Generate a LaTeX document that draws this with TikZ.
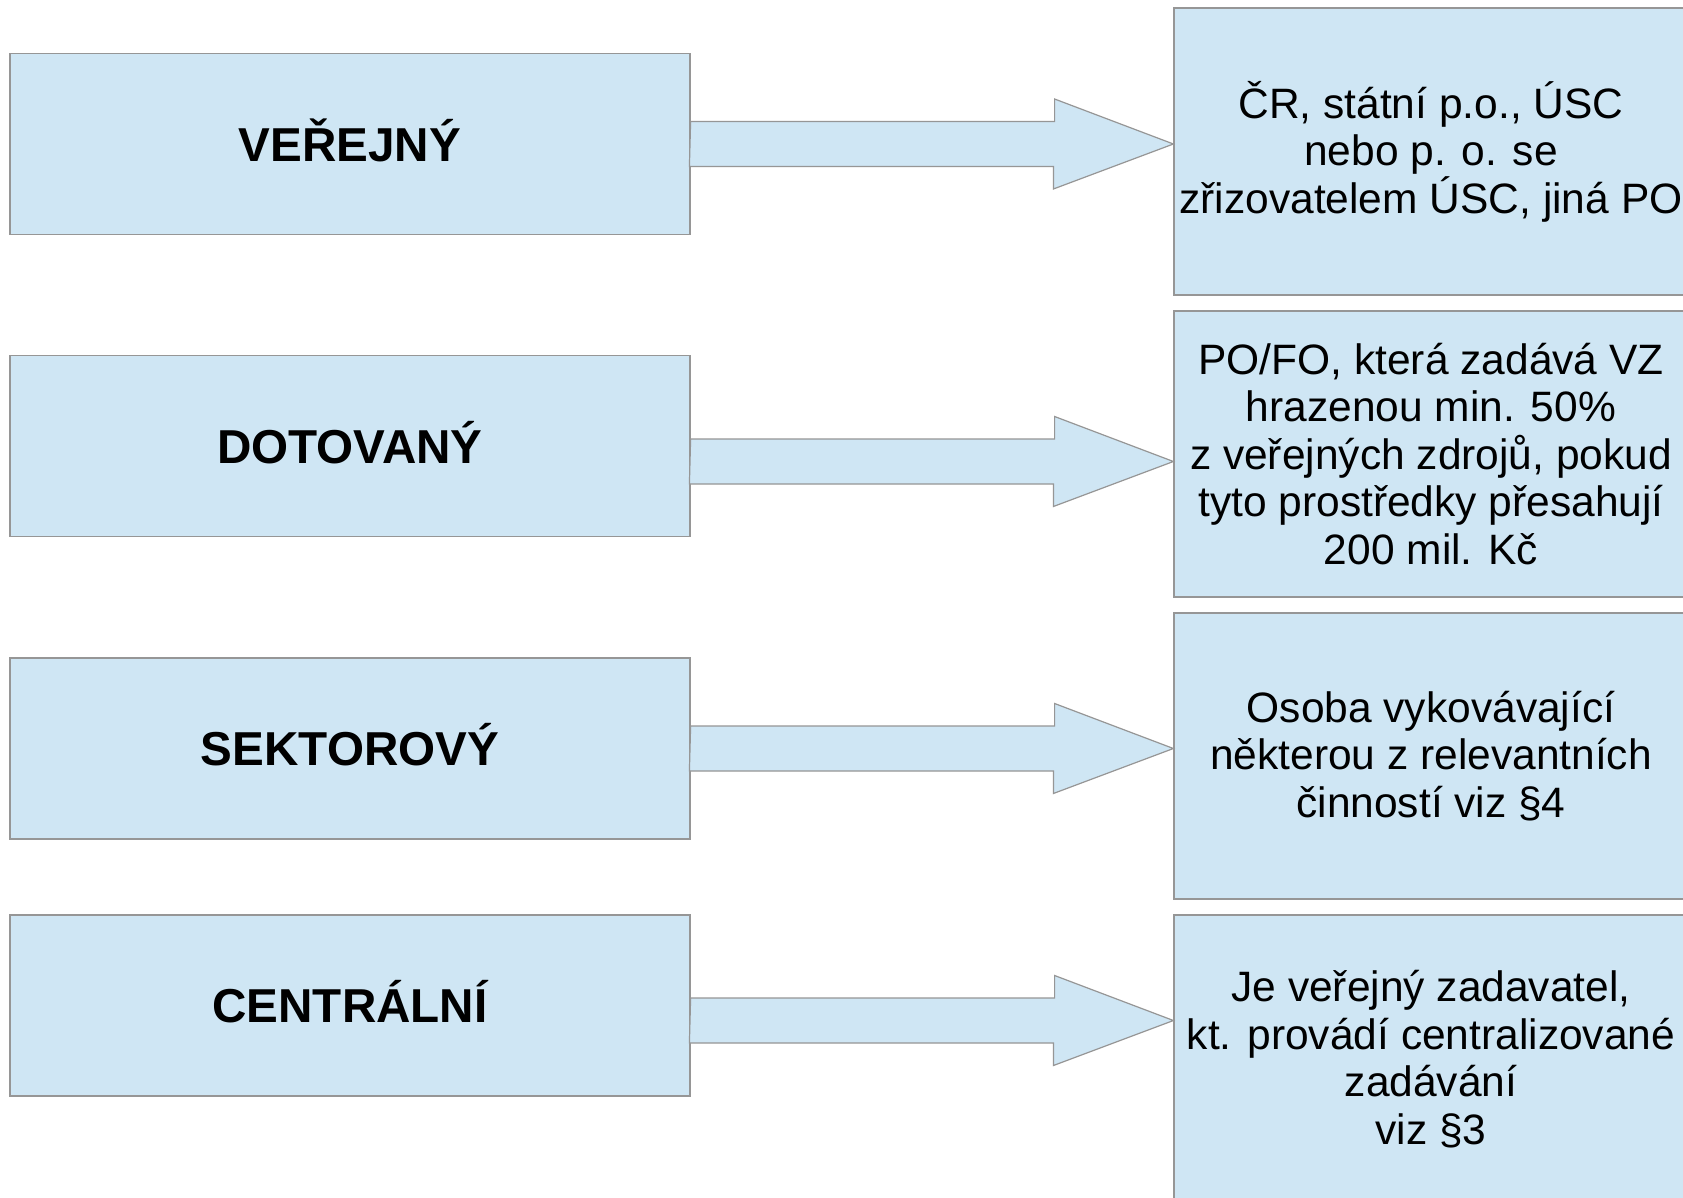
\documentclass[tikz,border=0pt]{standalone}
\usepackage{fontspec}
\setmainfont{Liberation Sans}
\usetikzlibrary{calc}
\definecolor{boxfill}{RGB}{207,230,244}
\definecolor{boxline}{RGB}{150,150,150}
\begin{document}
\begin{tikzpicture}[x=1pt,y=-1pt,
  lbox/.style={draw=boxline,fill=boxfill,line width=1.2pt,minimum width=680pt,minimum height=181pt,inner sep=0pt,
    text height=34.1pt,text depth=0pt,
    font=\fontsize{47.6pt}{54pt}\selectfont\bfseries},
  rbox/.style={draw=boxline,fill=boxfill,line width=1.2pt,minimum width=514pt,inner sep=0pt,align=center,
    font=\fontsize{42.5pt}{47.5pt}\selectfont},
  arr/.style={draw=boxline,fill=boxfill,line width=1.2pt,line join=miter}]
\useasboundingbox (0,0) rectangle (1683,1197);
\fill[white] (0,0) rectangle (1683,1197);
% left boxes
\node[lbox] (L1) at (350,144) {VEŘEJNÝ};
\node[lbox] (L2) at (350,446) {DOTOVANÝ};
\node[lbox] (L3) at (350,748.5) {SEKTOROVÝ};
\node[lbox] (L4) at (350,1005.5) {CENTRÁLNÍ};
% right boxes
\node[rbox,minimum height=287pt] (R1) at (1431,151.5) {ČR, státní p.o., ÚSC\\nebo p. o. se\\zřizovatelem ÚSC, jiná PO};
\node[rbox,minimum height=286pt] (R2) at (1431,454) {PO/FO, která zadává VZ\\hrazenou min. 50\%\\z veřejných zdrojů, pokud\\tyto prostředky přesahují\\200 mil. Kč};
\node[rbox,minimum height=286pt] (R3) at (1431,756) {Osoba vykovávající\\některou z relevantních\\činností viz §4};
\node[rbox,minimum height=288pt] (R4) at (1431,1059) {Je veřejný zadavatel,\\kt. provádí centralizované\\zadávání\\viz §3};
% arrow tips
\coordinate (t1) at (R1.west |- 0,144);
\coordinate (t2) at (R2.west |- 0,461.5);
\coordinate (t3) at (R3.west |- 0,748.5);
\coordinate (t4) at (R4.west |- 0,1020.5);
\foreach \i in {1,2,3,4}{
  \draw[arr] (L\i.east |- t\i) ++(0,-22.5) -- ++(364,0) -- ++(0,-22.5) -- (t\i) -- ++(-120,45) -- ++(0,-22.5) -- ++(-364,0) -- cycle;
}
\end{tikzpicture}
\end{document}
